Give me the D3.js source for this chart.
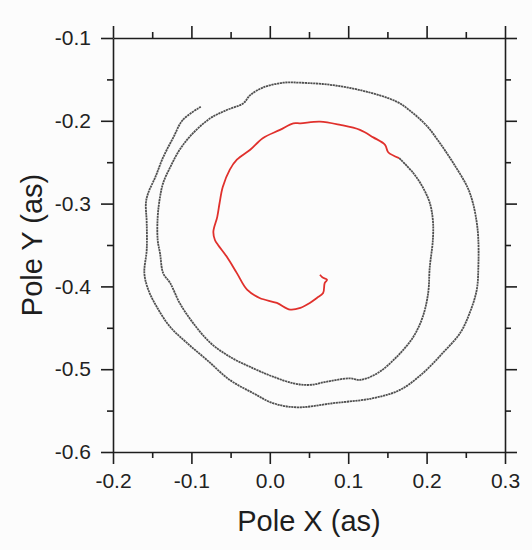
<!DOCTYPE html>
<html>
<head>
<meta charset="utf-8">
<script src="https://cdn.jsdelivr.net/npm/d3@7"></script>
<style>
  body { margin: 0; background: #fcfcfc; }
  svg { display: block; font-family: "Liberation Sans", Arial, sans-serif; }
  .axis path, .axis line { stroke: #1e1e1e; stroke-width: 1.6; }
  .axis text { fill: #222; font-size: 21px; }
</style>
</head>
<body>
<svg id="chart" width="532" height="550"></svg>
<script>
// Pole path, older part (grey)
const greyX = [-0.088, -0.111, -0.123, -0.136, -0.146, -0.155, -0.158, -0.157, -0.157, -0.160,
  -0.155, -0.144, -0.127, -0.106, -0.080, -0.051, -0.021, 0.004, 0.035, 0.081,
  0.132, 0.166, 0.195, 0.221, 0.243, 0.255, 0.264, 0.266, 0.266, 0.264,
  0.259, 0.252, 0.234, 0.217, 0.201, 0.183, 0.162, 0.124, 0.081, 0.039,
  0.017, -0.009, -0.025, -0.034, -0.055, -0.076, -0.098, -0.115, -0.127, -0.136,
  -0.140, -0.143, -0.143, -0.140, -0.136, -0.127, -0.115, -0.098, -0.076, -0.051,
  -0.021, 0.004, 0.030, 0.051, 0.073, 0.102, 0.115, 0.137, 0.162, 0.183,
  0.195, 0.202, 0.204, 0.208, 0.208, 0.204, 0.195, 0.183, 0.165];
const greyY = [-0.183, -0.199, -0.220, -0.244, -0.268, -0.287, -0.299, -0.323, -0.356, -0.384,
  -0.404, -0.425, -0.449, -0.468, -0.489, -0.513, -0.529, -0.541, -0.546, -0.541,
  -0.535, -0.525, -0.505, -0.480, -0.456, -0.432, -0.404, -0.377, -0.344, -0.323,
  -0.299, -0.280, -0.251, -0.227, -0.207, -0.191, -0.177, -0.165, -0.157, -0.154,
  -0.154, -0.160, -0.169, -0.179, -0.187, -0.197, -0.215, -0.235, -0.256, -0.275,
  -0.292, -0.316, -0.344, -0.360, -0.384, -0.396, -0.420, -0.444, -0.468, -0.485,
  -0.499, -0.509, -0.517, -0.519, -0.515, -0.511, -0.513, -0.505, -0.485, -0.461,
  -0.437, -0.408, -0.377, -0.344, -0.320, -0.299, -0.280, -0.263, -0.245];

// recent part (red)
const redX = [0.165, 0.151, 0.147, 0.132, 0.115, 0.090, 0.064, 0.039, 0.030, 0.013,
  -0.009, -0.025, -0.042, -0.051, -0.060, -0.064, -0.067, -0.072, -0.070, -0.066,
  -0.055, -0.042, -0.029, -0.013, 0.009, 0.026, 0.039, 0.051, 0.060, 0.068,
  0.070, 0.073, 0.067, 0.064];
const redY = [-0.245, -0.238, -0.229, -0.220, -0.211, -0.205, -0.201, -0.203, -0.203, -0.211,
  -0.221, -0.235, -0.247, -0.259, -0.280, -0.299, -0.316, -0.334, -0.344, -0.350,
  -0.364, -0.384, -0.404, -0.414, -0.420, -0.428, -0.426, -0.420, -0.414, -0.408,
  -0.396, -0.392, -0.389, -0.386];

const xTicks = [-0.2, -0.1, 0.0, 0.1, 0.2, 0.3];
const xMinor = [-0.15, -0.05, 0.05, 0.15, 0.25];
const yTicks = [-0.1, -0.2, -0.3, -0.4, -0.5, -0.6];
const yMinor = [-0.15, -0.25, -0.35, -0.45, -0.55];

const svg = d3.select("#chart");
const mLeft = 113, mRight = 505, mTop = 38, mBottom = 452;

const x = d3.scaleLinear().domain([-0.2, 0.3]).range([mLeft, mRight]);
const y = d3.scaleLinear().domain([-0.6, -0.1]).range([mBottom, mTop]);

// plain hyphen for the minus sign, like the original
const fmt = d => d.toFixed(1).replace("-0.0", "0.0");
const majLen = 12, minLen = 6;

function addAxis(gen, tr, vals, size, withText) {
  const g = svg.append("g").attr("class", "axis").attr("transform", tr)
    .call(gen.tickValues(vals).tickSize(size).tickSizeOuter(0)
      .tickFormat(withText ? fmt : ""));
  if (!withText) g.select(".domain").remove();
  return g;
}

// bottom
addAxis(d3.axisBottom(x).tickPadding(9), `translate(0,${mBottom})`, xTicks, majLen, true);
addAxis(d3.axisBottom(x), `translate(0,${mBottom})`, xMinor, minLen, false);
// top
const gt = addAxis(d3.axisTop(x), `translate(0,${mTop})`, xTicks, majLen, true);
gt.selectAll("text").remove();
addAxis(d3.axisTop(x), `translate(0,${mTop})`, xMinor, minLen, false);
// left
addAxis(d3.axisLeft(y).tickPadding(10), `translate(${mLeft},0)`, yTicks, majLen, true);
addAxis(d3.axisLeft(y), `translate(${mLeft},0)`, yMinor, minLen, false);
// right
const gr = addAxis(d3.axisRight(y), `translate(${mRight},0)`, yTicks, majLen, true);
gr.selectAll("text").remove();
addAxis(d3.axisRight(y), `translate(${mRight},0)`, yMinor, minLen, false);

const line = d3.line()
  .x(d => x(d[0]))
  .y(d => y(d[1]))
  .curve(d3.curveCatmullRom);

svg.append("path")
  .datum(d3.zip(greyX, greyY))
  .attr("d", line)
  .attr("fill", "none")
  .attr("stroke", "#505050")
  .attr("stroke-width", 1.8)
  .attr("stroke-dasharray", "2.2,0.6");

svg.append("path")
  .datum(d3.zip(redX, redY))
  .attr("d", line)
  .attr("fill", "none")
  .attr("stroke", "#e0302c")
  .attr("stroke-width", 1.8)
  .attr("stroke-linejoin", "round");

// axis titles
svg.append("text")
  .attr("x", (mLeft + mRight) / 2)
  .attr("y", 531)
  .attr("text-anchor", "middle")
  .attr("font-size", 29)
  .attr("fill", "#1e1e1e")
  .text("Pole X (as)");

svg.append("text")
  .attr("transform", `translate(42,${(mTop + mBottom) / 2}) rotate(-90)`)
  .attr("text-anchor", "middle")
  .attr("font-size", 29)
  .attr("fill", "#1e1e1e")
  .text("Pole Y (as)");
</script>
</body>
</html>
